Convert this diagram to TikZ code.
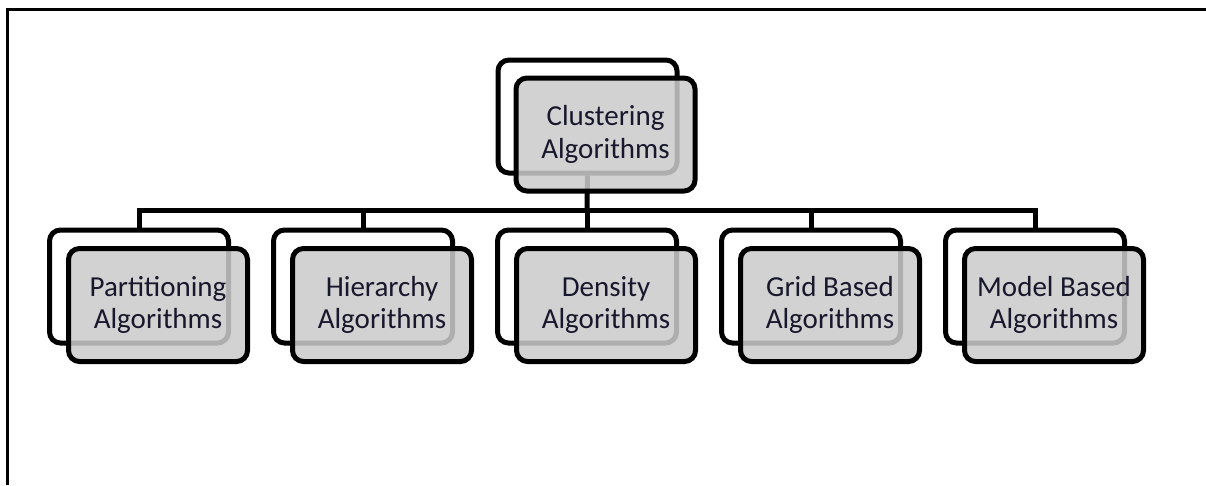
\documentclass[tikz,border=0pt]{standalone}
\usepackage{fontspec}
\setmainfont{Carlito}
\definecolor{boxfill}{RGB}{203,203,203}
\definecolor{txt}{RGB}{24,24,44}
\begin{document}
\begin{tikzpicture}[x=1pt,y=-1pt,
  backbox/.style={draw=black,line width=5pt,rounded corners=11pt,fill=white,
    minimum width=179pt,minimum height=113pt,inner sep=0pt},
  frontbox/.style={draw=black,line width=5pt,rounded corners=11pt,fill=boxfill,fill opacity=0.86,text opacity=1,
    minimum width=179pt,minimum height=113pt,inner sep=0pt,align=center,text=txt,
    font=\fontsize{29}{32.5}\selectfont},
  conn/.style={draw=black,line width=5pt,line join=miter}]
\useasboundingbox (0,0) rectangle (1206,485);
\draw[line width=3pt] (7,485) -- (7,9) -- (1206,9);
% back boxes
\node[backbox] (cb) at (587.5,116.5) {};
\node[backbox] (pb) at (139,286.5) {};
\node[backbox] (hb) at (363,286.5) {};
\node[backbox] (db) at (587,286.5) {};
\node[backbox] (gb) at (811,286.5) {};
\node[backbox] (mb) at (1035,286.5) {};
% connectors
\coordinate (bar) at (587,210);
\draw[conn] (cb.south) -- (bar);
\draw[conn] (pb.north) |- (mb.north |- bar) -- (mb.north);
\draw[conn] (hb.north) -- (hb.north |- bar);
\draw[conn] (db.north) -- (db.north |- bar);
\draw[conn] (gb.north) -- (gb.north |- bar);
% front boxes
\node[frontbox] (cf) at ([shift={(18,18)}]cb.center) {Clustering\\Algorithms};
\node[frontbox] (pf) at ([shift={(19,18.5)}]pb.center) {Partitioning\\Algorithms};
\node[frontbox] (hf) at ([shift={(19,18.5)}]hb.center) {Hierarchy\\Algorithms};
\node[frontbox] (df) at ([shift={(19,18.5)}]db.center) {Density\\Algorithms};
\node[frontbox] (gf) at ([shift={(19,18.5)}]gb.center) {Grid Based\\Algorithms};
\node[frontbox] (mf) at ([shift={(19,18.5)}]mb.center) {Model Based\\Algorithms};
\end{tikzpicture}
\end{document}
